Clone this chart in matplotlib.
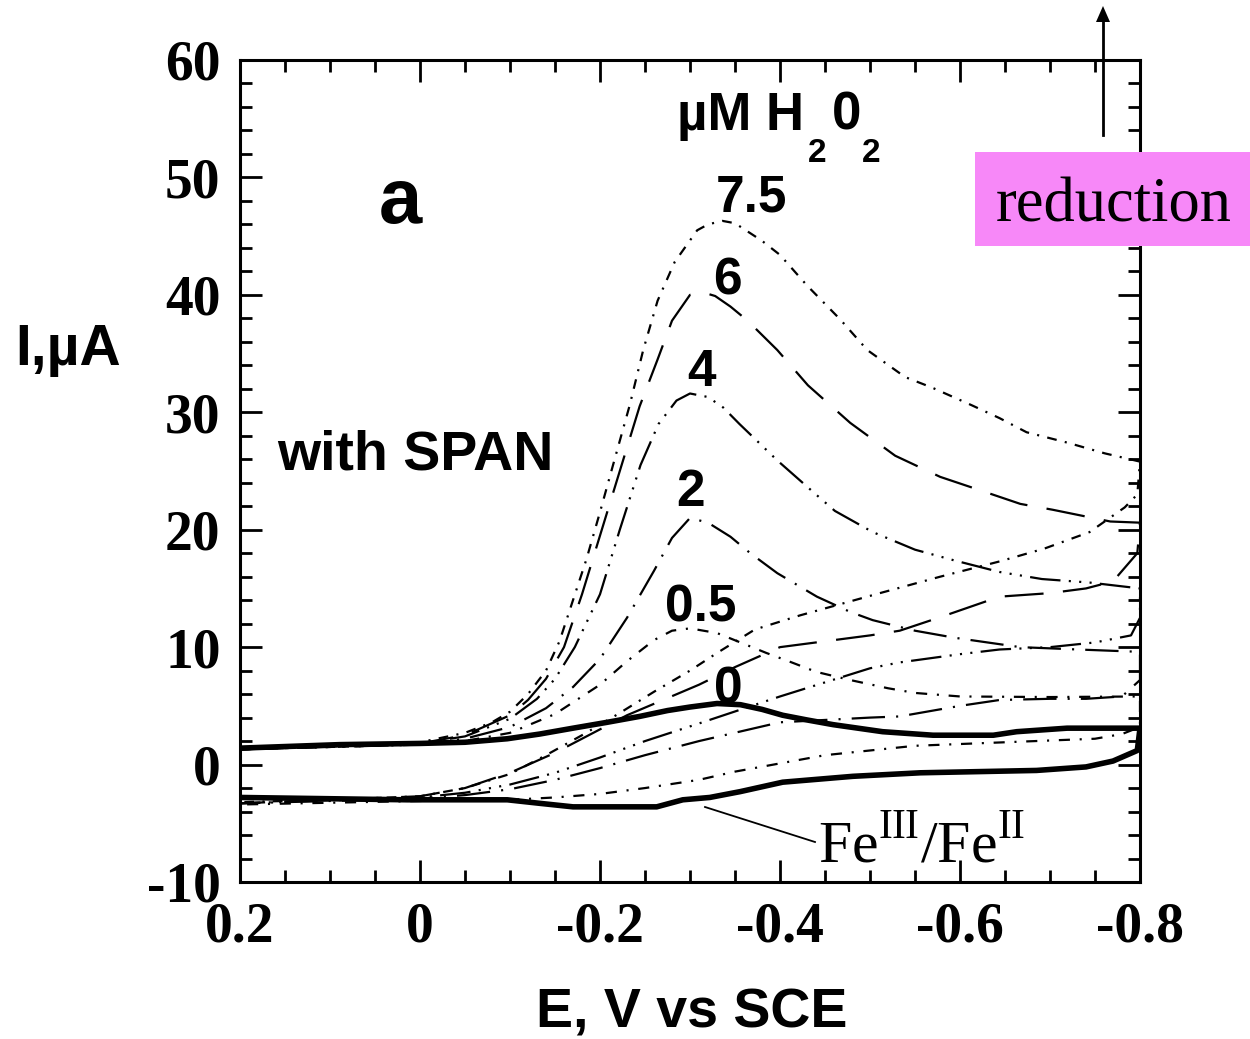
import matplotlib
matplotlib.use("Agg")
import matplotlib.pyplot as plt
from matplotlib.ticker import MultipleLocator, FixedLocator, FixedFormatter
from matplotlib.patches import Rectangle

plt.rcParams['lines.scale_dashes'] = False
plt.rcParams['mathtext.fontset'] = 'custom'
plt.rcParams['mathtext.rm'] = 'Liberation Serif'

# ---- cyclic voltammograms: E (V vs SCE) and I (uA), forward then reverse scan ----
conc_labels = ["0", "0.5", "2", "4", "6", "7.5"]

E_fwd_0 = [0.2, 0.089, 0.0, -0.05, -0.097, -0.133, -0.17, -0.208, -0.244, -0.275, -0.3, -0.33, -0.356, -0.38, -0.403, -0.43, -0.459, -0.514, -0.57, -0.637, -0.663, -0.719, -0.8]
I_fwd_0 = [1.4, 1.7, 1.8, 1.9, 2.2, 2.6, 3.1, 3.6, 4.1, 4.6, 4.9, 5.2, 5.1, 4.7, 4.2, 3.8, 3.4, 2.8, 2.5, 2.5, 2.8, 3.1, 3.1]
E_rev_0 = [-0.8, -0.797, -0.77, -0.74, -0.685, -0.556, -0.481, -0.403, -0.356, -0.322, -0.292, -0.263, -0.17, -0.133, -0.097, 0.014, 0.2]
I_rev_0 = [3.1, 1.2, 0.3, -0.2, -0.5, -0.7, -1.0, -1.5, -2.3, -2.8, -3.0, -3.6, -3.6, -3.3, -3.0, -3.0, -2.8]

E_fwd_05 = [0.2, 0.0, -0.05, -0.1, -0.15, -0.2, -0.23, -0.26, -0.28, -0.3, -0.33, -0.356, -0.385, -0.413, -0.44, -0.478, -0.52, -0.55, -0.6, -0.7, -0.8]
I_fwd_05 = [1.3, 1.7, 2.0, 2.7, 4.3, 6.8, 8.8, 10.6, 11.4, 11.6, 11.2, 10.4, 9.5, 8.7, 7.9, 7.2, 6.5, 6.1, 5.8, 5.75, 5.8]
E_rev_05 = [-0.8, -0.78, -0.75, -0.65, -0.55, -0.45, -0.4, -0.35, -0.31, -0.25, -0.2, -0.15, -0.1, 0.0, 0.2]
I_rev_05 = [3.2, 2.6, 2.2, 1.9, 1.6, 0.8, 0.1, -0.6, -1.3, -2.0, -2.5, -2.8, -3.0, -3.1, -3.4]

E_fwd_2 = [0.2, 0.0, -0.05, -0.1, -0.14, -0.17, -0.2, -0.23, -0.26, -0.28, -0.3, -0.32, -0.345, -0.367, -0.397, -0.441, -0.478, -0.503, -0.55, -0.594, -0.667, -0.731, -0.8]
I_fwd_2 = [1.3, 1.7, 2.2, 3.2, 4.8, 6.6, 9.0, 12.5, 16.5, 19.3, 21.0, 20.6, 19.4, 18.0, 16.3, 14.3, 13.0, 12.3, 11.4, 10.8, 10.0, 9.8, 9.6]
E_rev_2 = [-0.8, -0.78, -0.74, -0.7, -0.644, -0.6, -0.533, -0.5, -0.4, -0.31, -0.25, -0.2, -0.15, -0.1, -0.05, 0.0, 0.2]
I_rev_2 = [7.2, 5.8, 5.6, 5.6, 5.5, 5.0, 4.1, 4.0, 3.6, 2.0, 0.8, -0.3, -1.3, -2.1, -2.6, -2.9, -3.3]

E_fwd_4 = [0.2, 0.0, -0.05, -0.1, -0.13, -0.15, -0.172, -0.2, -0.222, -0.245, -0.265, -0.285, -0.3, -0.32, -0.337, -0.355, -0.374, -0.397, -0.437, -0.461, -0.503, -0.55, -0.593, -0.644, -0.691, -0.744, -0.8]
I_fwd_4 = [1.3, 1.8, 2.4, 3.9, 5.6, 7.3, 10.0, 14.5, 20.0, 25.5, 29.0, 31.0, 31.6, 31.3, 30.4, 29.0, 27.6, 25.9, 23.2, 21.6, 19.8, 18.3, 17.4, 16.4, 15.8, 15.5, 15.0]
E_rev_4 = [-0.8, -0.79, -0.75, -0.7, -0.644, -0.6, -0.533, -0.5, -0.4, -0.31, -0.25, -0.2, -0.15, -0.1, -0.05, 0.0, 0.2]
I_rev_4 = [12.5, 11.0, 10.4, 10.0, 9.8, 9.4, 8.7, 8.2, 5.8, 3.5, 2.0, 0.6, -0.7, -1.7, -2.4, -2.8, -3.3]

E_fwd_6 = [0.2, 0.0, -0.05, -0.1, -0.12, -0.14, -0.16, -0.18, -0.2, -0.22, -0.244, -0.264, -0.28, -0.3, -0.315, -0.328, -0.345, -0.364, -0.397, -0.431, -0.478, -0.528, -0.578, -0.613, -0.667, -0.703, -0.767, -0.8]
I_fwd_6 = [1.3, 1.8, 2.5, 4.2, 5.5, 7.3, 10.0, 14.5, 19.5, 24.5, 30.5, 34.5, 37.8, 40.0, 40.2, 39.9, 39.0, 37.8, 35.3, 32.3, 29.1, 26.3, 24.5, 23.6, 22.2, 21.7, 20.7, 20.6]
E_rev_6 = [-0.8, -0.797, -0.77, -0.74, -0.7, -0.644, -0.58, -0.533, -0.5, -0.45, -0.4, -0.35, -0.31, -0.27, -0.23, -0.2, -0.15, -0.1, -0.05, 0.0, 0.2]
I_rev_6 = [20.6, 18.0, 15.6, 15.0, 14.6, 14.3, 12.6, 11.4, 11.0, 10.5, 10.0, 8.3, 6.8, 5.5, 4.2, 3.0, 1.0, -0.7, -2.0, -2.7, -3.3]

E_fwd_75 = [0.2, 0.05, 0.0, -0.05, -0.08, -0.1, -0.12, -0.14, -0.155, -0.17, -0.185, -0.2, -0.213, -0.233, -0.248, -0.264, -0.283, -0.308, -0.32, -0.336, -0.35, -0.36, -0.38, -0.4, -0.43, -0.467, -0.497, -0.539, -0.569, -0.613, -0.644, -0.674, -0.72, -0.761, -0.8]
I_fwd_75 = [1.3, 1.6, 1.9, 2.7, 3.6, 4.5, 6.0, 8.0, 10.5, 14.0, 17.5, 21.5, 25.1, 30.6, 35.3, 39.5, 42.8, 45.5, 46.0, 46.3, 46.1, 45.6, 44.6, 43.4, 40.8, 37.9, 35.3, 33.0, 32.1, 30.6, 29.5, 28.3, 27.4, 26.5, 25.8]
E_rev_75 = [-0.8, -0.797, -0.783, -0.744, -0.694, -0.644, -0.578, -0.511, -0.422, -0.372, -0.33, -0.3, -0.26, -0.22, -0.18, -0.14, -0.1, -0.05, 0.0, 0.1, 0.2]
I_rev_75 = [25.8, 23.0, 21.9, 19.8, 18.4, 17.3, 16.0, 14.6, 12.7, 11.5, 9.5, 8.0, 6.2, 4.3, 2.5, 0.8, -0.8, -2.0, -2.7, -3.0, -3.2]

curves = [
    (E_fwd_0 + E_rev_0, I_fwd_0 + I_rev_0, '-', 4.0),
    (E_fwd_05 + E_rev_05, I_fwd_05 + I_rev_05, (0, (8, 7, 1.5, 7)), 1.6),
    (E_fwd_2 + E_rev_2, I_fwd_2 + I_rev_2, (0, (24, 8, 1.5, 8)), 1.6),
    (E_fwd_4 + E_rev_4, I_fwd_4 + I_rev_4, (0, (22, 6, 1.5, 6, 1.5, 6, 1.5, 6)), 1.6),
    (E_fwd_6 + E_rev_6, I_fwd_6 + I_rev_6, (0, (28, 14)), 1.6),
    (E_fwd_75 + E_rev_75, I_fwd_75 + I_rev_75, (0, (7, 6, 1.5, 6)), 1.6),
]

W, H = 1250, 1039
fig = plt.figure(figsize=(W / 100, H / 100), dpi=100)
fig.patch.set_facecolor('white')


def fx(px):
    return px / W


def fy(py):
    return 1 - py / H


ax = fig.add_axes([fx(240), fy(882), 900 / W, 822 / H])

for E, I, ls, lw in curves:
    ax.plot(E, I, color='black', linestyle=ls, linewidth=lw, solid_capstyle='butt',
            solid_joinstyle='round')

ax.set_xlim(0.2, -0.8)
ax.set_ylim(-10, 60)

xt = [0.2, 0.0, -0.2, -0.4, -0.6, -0.8]
xt_lab = ["0.2", "0", "-0.2", "-0.4", "-0.6", "-0.8"]
yt = [-10, 0, 10, 20, 30, 40, 50, 60]
yt_lab = ["-10", "0", "10", "20", "30", "40", "50", "60"]
ax.xaxis.set_major_locator(FixedLocator(xt))
ax.xaxis.set_major_formatter(FixedFormatter(xt_lab))
ax.yaxis.set_major_locator(FixedLocator(yt))
ax.yaxis.set_major_formatter(FixedFormatter(yt_lab))
ax.xaxis.set_minor_locator(MultipleLocator(0.05))
ax.yaxis.set_minor_locator(MultipleLocator(2))

ax.tick_params(which='both', direction='in', top=True, right=True, width=2)
ax.tick_params(which='major', length=16)
ax.tick_params(which='minor', length=8.5)
ax.tick_params(axis='x', which='major', pad=14)
ax.tick_params(axis='y', which='major', pad=14)
for lab in ax.get_xticklabels() + ax.get_yticklabels():
    lab.set_fontfamily('Liberation Serif')
    lab.set_fontweight('bold')
    lab.set_fontsize(40)
for sp in ax.spines.values():
    sp.set_linewidth(2.2)

# axis titles
sans = 'Liberation Sans'
fig.text(fx(15), fy(350), "I,\u00b5A", fontfamily=sans, fontweight='bold', fontsize=41,
         ha='left', va='center')
fig.text(fx(692), fy(1027), "E, V vs SCE", fontfamily=sans, fontweight='bold', fontsize=40,
         ha='center', va='baseline')

# panel annotations
fig.text(fx(400), fy(223), "a", fontfamily=sans, fontweight='bold', fontsize=56,
         ha='center', va='baseline')
fig.text(fx(277), fy(470), "with SPAN", fontfamily=sans, fontweight='bold', fontsize=40,
         ha='left', va='baseline')
fig.text(fx(677), fy(130), "\u00b5M H", fontfamily=sans, fontweight='bold', fontsize=38,
         ha='left', va='baseline')
fig.text(fx(808), fy(162), "2", fontfamily=sans, fontweight='bold', fontsize=24,
         ha='left', va='baseline')
fig.text(fx(832), fy(130), "0", fontfamily=sans, fontweight='bold', fontsize=38,
         ha='left', va='baseline')
fig.text(fx(862), fy(162), "2", fontfamily=sans, fontweight='bold', fontsize=24,
         ha='left', va='baseline')

label_pos = {"7.5": (751, 211), "6": (727, 294), "4": (702, 386),
             "2": (690, 506), "0.5": (701, 621), "0": (728, 704)}
for lab in conc_labels:
    px, py = label_pos[lab]
    fig.text(fx(px), fy(py), lab, fontfamily=sans, fontweight='bold', fontsize=37,
             ha='center', va='baseline')

# Fe(III)/Fe(II) wave marker
fig.add_artist(plt.Line2D([fx(705), fx(815)], [fy(807), fy(842)], color='black', linewidth=1.3))
fig.text(fx(818), fy(862), r"Fe$^{\mathrm{III}}$/Fe$^{\mathrm{II}}$", fontfamily='Liberation Serif',
         fontsize=43, ha='left', va='baseline')

# reduction direction arrow and tag
fig.add_artist(Rectangle((fx(975), fy(246)), (1250 - 975) / W, (246 - 152) / H,
                         transform=fig.transFigure, facecolor='#f788f8', edgecolor='none', zorder=5))
fig.text(fx(1114), fy(222), "reduction", fontfamily='Liberation Serif', fontsize=45,
         ha='center', va='baseline', zorder=6)
fig.add_artist(plt.Line2D([fx(1103), fx(1103)], [fy(135), fy(20)], color='black', linewidth=2))
fig.patches.append(plt.Polygon([[fx(1096), fy(22)], [fx(1110), fy(22)], [fx(1103), fy(6)]],
                               closed=True, transform=fig.transFigure, facecolor='black',
                               edgecolor='none'))

fig.savefig("out.png", dpi=100)
